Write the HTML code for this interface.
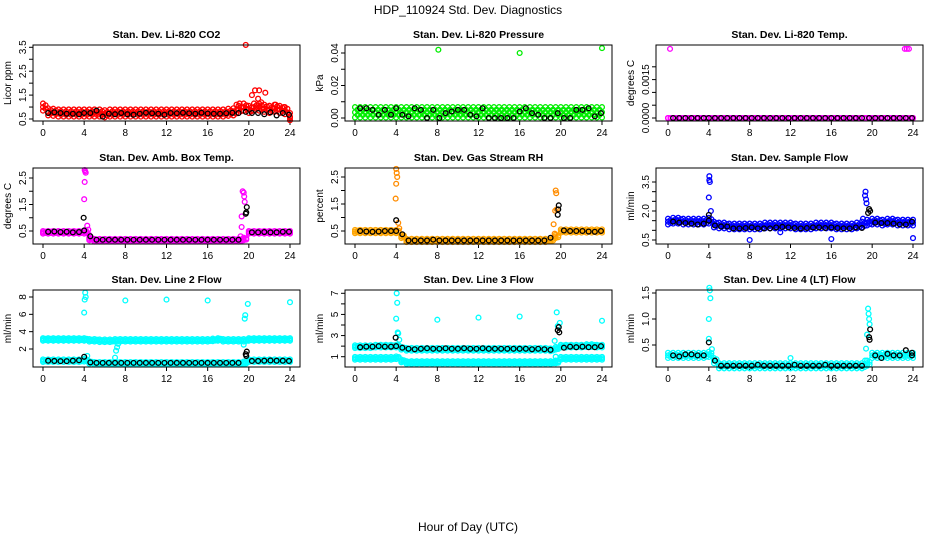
<!DOCTYPE html>
<html><head><meta charset="utf-8"><title>HDP_110924 Std. Dev. Diagnostics</title>
<style>
html,body{margin:0;padding:0;background:#fff;}
svg{display:block;font-family:"Liberation Sans",Arial,sans-serif;}
</style></head>
<body>
<svg id="chart" width="936" height="540" viewBox="0 0 936 540" xmlns="http://www.w3.org/2000/svg">
<text x="468" y="14" text-anchor="middle" font-size="12">HDP_110924  Std. Dev. Diagnostics</text>
<text x="468" y="531" text-anchor="middle" font-size="12">Hour of Day (UTC)</text>
</svg>
<script>
// shared x categories (hours)
const bandHours = [0,0.5,1,1.5,2,2.5,3,3.5,4,4.5,5,5.5,6,6.5,7,7.5,8,8.5,9,9.5,10,10.5,11,11.5,12,12.5,13,13.5,14,14.5,15,15.5,16,16.5,17,17.5,18,18.5,19,19.5,20,20.5,21,21.5,22,22.5,23,23.5,24];
const blackHours = [0.5,1.1,1.7,2.3,2.9,3.5,4.0,4.6,5.2,5.8,6.4,7.0,7.6,8.2,8.8,9.4,10.0,10.6,11.2,11.8,12.4,13.0,13.6,14.2,14.8,15.4,16.0,16.6,17.2,17.8,18.4,19.0,19.7,20.3,20.9,21.5,22.1,22.7,23.3,23.9];
const xTicks = [0,4,8,12,16,20,24];

// Panel 1: CO2
const co2Band = [1.0,0.8,0.78,0.75,0.75,0.75,0.75,0.75,0.75,0.75,0.75,0.75,0.72,0.75,0.75,0.75,0.75,0.75,0.75,0.75,0.75,0.75,0.75,0.75,0.75,0.75,0.75,0.75,0.75,0.75,0.75,0.75,0.75,0.75,0.75,0.75,0.78,0.8,0.9,1.0,0.9,1.0,1.0,0.95,0.9,0.95,0.9,0.85,0.6];
const co2Spread = [0.15];
const co2OutX = [19.7,18.8,19.1,20.3,20.6,21.0,20.9,21.6,21.2,22.0,22.6,23.4,24.0];
const co2OutY = [3.6,1.1,1.15,1.5,1.7,1.7,1.35,1.6,1.2,1.05,1.1,1.0,0.55];
const co2Black = [0.75,0.78,0.75,0.72,0.72,0.7,0.75,0.75,0.85,0.6,0.72,0.7,0.75,0.7,0.68,0.72,0.76,0.74,0.72,0.68,0.75,0.74,0.76,0.74,0.72,0.76,0.73,0.72,0.72,0.74,0.76,0.75,0.8,0.75,0.75,0.7,0.78,0.65,0.75,0.68];
const co2Ticks = [0.5,1,1.5,2,2.5,3,3.5];
const co2Labels = ["0.5","1.5","2.5","3.5"];

// Panel 2: Pressure
const presBand = [0.0035,0.0035,0.0035,0.0035,0.0035,0.0035,0.0035,0.0035,0.0035,0.0035,0.0035,0.0035,0.0035,0.0035,0.0035,0.0035,0.0035,0.0035,0.0035,0.0035,0.0035,0.0035,0.0035,0.0035,0.0035,0.0035,0.0035,0.0035,0.0035,0.0035,0.0035,0.0035,0.0035,0.0035,0.0035,0.0035,0.0035,0.0035,0.0035,0.0035,0.0035,0.0035,0.0035,0.0035,0.0035,0.0035,0.0035,0.0035,0.0035];
const presSpread = [0.0032];
const presOutX = [8.1,16.0,24.0];
const presOutY = [0.042,0.040,0.043];
const presBlack = [0.006,0.006,0.005,0.002,0.005,0.002,0.006,0.002,0.001,0.006,0.005,0.0,0.005,0.0,0.003,0.004,0.005,0.005,0.002,0.001,0.006,0.0,0.0,0.0,0.0,0.0,0.004,0.006,0.003,0.002,0.0,0.0,0.003,0.0,0.0,0.005,0.005,0.006,0.001,0.003];
const presTicks = [0,0.01,0.02,0.03,0.04];
const presLabels = ["0.00","0.02","0.04"];

// Panel 3: Li-820 Temp
const tempBand = [0,0,0,0,0,0,0,0,0,0,0,0,0,0,0,0,0,0,0,0,0,0,0,0,0,0,0,0,0,0,0,0,0,0,0,0,0,0,0,0,0,0,0,0,0,0,0,0,0];
const tempSpread = [0];
const tempOutX = [0.2,23.2,23.4,23.6];
const tempOutY = [0.0027,0.0027,0.0027,0.0027];
const tempBlack = [0,0,0,0,0,0,0,0,0,0,0,0,0,0,0,0,0,0,0,0,0,0,0,0,0,0,0,0,0,0,0,0,0,0,0,0,0,0,0,0];
const tempTicks = [0,0.0005,0.001,0.0015,0.002];
const tempLabels = ["0.0000","0.0015"];

// Panel 4: Amb Box Temp
const ambBand = [0.45,0.45,0.45,0.45,0.45,0.45,0.45,0.45,0.45,0.2,0.15,0.15,0.15,0.15,0.15,0.15,0.15,0.15,0.15,0.15,0.15,0.15,0.15,0.15,0.15,0.15,0.15,0.15,0.15,0.15,0.15,0.15,0.15,0.15,0.15,0.15,0.15,0.15,0.15,0.2,0.45,0.45,0.45,0.45,0.45,0.45,0.45,0.45,0.45];
const ambSpread = [0.05];
const ambOutX = [4.05,4.1,4.15,4.05,4.0,4.3,4.4,4.5,19.3,19.4,19.5,19.55,19.6,19.3,19.2];
const ambOutY = [2.8,2.75,2.7,2.35,1.7,0.7,0.55,0.35,1.05,2.0,1.95,1.8,1.6,0.65,0.3];
const ambBlack = [0.47,0.48,0.46,0.47,0.45,0.46,0.52,0.3,0.17,0.17,0.17,0.17,0.17,0.17,0.17,0.17,0.17,0.17,0.17,0.17,0.17,0.17,0.17,0.17,0.17,0.17,0.17,0.17,0.17,0.17,0.17,0.17,1.15,0.45,0.45,0.46,0.45,0.45,0.47,0.47];
const ambBlackExX = [3.95,19.8,19.75];
const ambBlackExY = [1.0,1.4,1.2];
const ambTicks = [0.5,1,1.5,2,2.5];
const ambLabels = ["0.5","1.5","2.5"];

// Panel 5: Gas Stream RH
const rhBand = [0.48,0.48,0.48,0.48,0.48,0.48,0.48,0.48,0.48,0.3,0.15,0.15,0.15,0.15,0.15,0.15,0.15,0.15,0.15,0.15,0.15,0.15,0.15,0.15,0.15,0.15,0.15,0.15,0.15,0.15,0.15,0.15,0.15,0.15,0.15,0.15,0.15,0.15,0.18,0.3,0.5,0.5,0.5,0.5,0.5,0.5,0.5,0.5,0.5];
const rhSpread = [0.06];
const rhOutX = [4.0,4.05,4.1,4.0,3.95,4.2,4.3,19.3,19.5,19.55,19.45,19.6,19.4];
const rhOutY = [2.8,2.65,2.5,2.25,1.7,0.8,0.6,0.75,2.0,1.9,1.25,1.3,0.4];
const rhBlack = [0.5,0.48,0.47,0.48,0.5,0.5,0.5,0.38,0.15,0.15,0.15,0.15,0.18,0.15,0.15,0.15,0.15,0.15,0.15,0.15,0.15,0.15,0.15,0.15,0.15,0.15,0.15,0.15,0.15,0.15,0.15,0.25,1.1,0.52,0.5,0.5,0.5,0.48,0.47,0.5];
const rhBlackExX = [4.0,19.8,19.75];
const rhBlackExY = [0.9,1.45,1.3];
const rhTicks = [0.5,1,1.5,2,2.5];
const rhLabels = ["0.5","1.5","2.5"];

// Panel 6: Sample Flow
const sfBand = [1.45,1.5,1.5,1.45,1.45,1.45,1.45,1.45,1.5,1.3,1.25,1.25,1.2,1.2,1.2,1.2,1.2,1.2,1.2,1.25,1.25,1.25,1.25,1.25,1.25,1.2,1.2,1.2,1.2,1.25,1.25,1.25,1.25,1.2,1.2,1.2,1.2,1.25,1.3,1.4,1.45,1.45,1.4,1.45,1.45,1.4,1.4,1.4,1.4];
const sfSpread = [0.15];
const sfOutX = [4.05,4.05,4.1,4.0,4.2,8.0,16.0,19.3,19.35,19.4,19.45,24.0,11.0,19.1];
const sfOutY = [3.8,3.6,3.5,2.7,2.0,0.5,0.55,2.8,3.0,2.6,2.4,0.6,0.9,1.6];
const sfBlack = [1.45,1.4,1.38,1.35,1.3,1.35,1.5,1.25,1.2,1.2,1.1,1.1,1.12,1.15,1.1,1.1,1.1,1.15,1.18,1.15,1.12,1.1,1.12,1.15,1.15,1.12,1.15,1.12,1.1,1.1,1.15,1.12,2.1,1.4,1.38,1.38,1.35,1.3,1.3,1.45];
const sfBlackExX = [4.0,19.8,19.6];
const sfBlackExY = [1.8,2.0,1.9];
const sfTicks = [0.5,1,1.5,2,2.5,3,3.5];
const sfLabels = ["0.5","2.0","3.5"];

// Panel 7: Line 2 Flow
const l2High = [3.1,3.1,3.1,3.1,3.1,3.1,3.1,3.1,3.1,3.0,3.0,2.95,2.95,2.95,3.0,3.0,3.0,3.0,3.0,3.0,3.0,3.0,3.0,3.0,3.0,3.0,3.0,3.0,3.0,3.0,3.0,3.0,3.0,3.05,3.1,3.0,3.0,3.0,3.0,3.0,3.1,3.1,3.1,3.1,3.1,3.1,3.1,3.1,3.1];
const l2Low = [0.65,0.65,0.65,0.65,0.65,0.65,0.65,0.65,0.7,0.45,0.35,0.35,0.35,0.35,0.35,0.35,0.35,0.35,0.35,0.35,0.35,0.35,0.35,0.35,0.35,0.35,0.35,0.35,0.35,0.35,0.35,0.35,0.35,0.35,0.35,0.35,0.35,0.35,0.35,0.4,0.65,0.65,0.65,0.65,0.65,0.65,0.65,0.65,0.65];
const l2Spread = [0.15];
const l2OutX = [4.1,4.15,4.05,4.0,8.0,12.0,16.0,19.9,24.0,19.6,19.65,7.2,7.1,7.0,7.3,19.5,4.3];
const l2OutY = [8.5,8.0,7.7,6.2,7.6,7.7,7.6,7.2,7.4,5.5,5.9,2.2,1.8,1.0,2.6,2.5,1.2];
const l2Black = [0.65,0.62,0.6,0.6,0.65,0.7,1.1,0.45,0.4,0.4,0.4,0.4,0.4,0.4,0.4,0.4,0.4,0.4,0.4,0.4,0.4,0.4,0.4,0.4,0.4,0.4,0.4,0.4,0.4,0.4,0.4,0.4,1.4,0.62,0.62,0.65,0.68,0.65,0.65,0.62];
const l2BlackExX = [19.8,19.75];
const l2BlackExY = [1.7,1.2];
const l2Ticks = [2,4,6,8];
const l2Labels = ["2","4","6","8"];

// Panel 8: Line 3 Flow
const l3High = [1.95,1.95,1.95,1.95,2.0,2.0,2.0,2.0,2.0,1.8,1.7,1.7,1.7,1.7,1.7,1.7,1.7,1.7,1.7,1.7,1.7,1.7,1.7,1.7,1.7,1.7,1.7,1.7,1.7,1.7,1.7,1.7,1.7,1.7,1.7,1.7,1.7,1.7,1.65,1.8,2.0,2.0,2.0,2.0,2.0,2.05,2.05,2.0,2.0];
const l3Low = [0.85,0.85,0.85,0.85,0.85,0.85,0.85,0.85,0.9,0.6,0.45,0.45,0.45,0.45,0.45,0.45,0.45,0.45,0.45,0.45,0.45,0.45,0.45,0.45,0.45,0.45,0.45,0.45,0.45,0.45,0.45,0.45,0.45,0.45,0.45,0.45,0.45,0.45,0.45,0.5,0.85,0.85,0.85,0.85,0.85,0.85,0.85,0.85,0.85];
const l3Spread = [0.13];
const l3OutX = [4.05,4.1,4.0,4.15,4.2,4.3,8.0,12.0,16.0,19.6,19.7,19.9,24.0,19.4,19.5];
const l3OutY = [7.0,6.1,4.6,3.3,3.2,2.6,4.5,4.7,4.8,5.2,3.9,4.2,4.4,2.5,1.0];
const l3Black = [1.9,1.95,1.95,2.0,1.95,1.95,2.0,1.85,1.75,1.7,1.75,1.8,1.75,1.75,1.8,1.75,1.75,1.8,1.75,1.75,1.8,1.75,1.75,1.75,1.75,1.75,1.75,1.75,1.7,1.75,1.7,1.65,3.5,1.85,1.95,1.9,1.95,1.9,1.9,2.0];
const l3BlackExX = [3.95,19.8,19.85];
const l3BlackExY = [2.8,3.8,3.3];
const l3Ticks = [1,2,3,4,5,6,7];
const l3Labels = ["1","3","5","7"];

// Panel 9: Line 4 (LT) Flow
const l4Band = [0.3,0.3,0.3,0.3,0.3,0.3,0.3,0.3,0.32,0.2,0.1,0.1,0.1,0.1,0.1,0.1,0.1,0.1,0.1,0.1,0.1,0.1,0.1,0.1,0.1,0.1,0.1,0.1,0.1,0.1,0.1,0.1,0.1,0.1,0.1,0.1,0.1,0.1,0.1,0.15,0.3,0.3,0.3,0.3,0.3,0.3,0.3,0.3,0.3];
const l4Spread = [0.05];
const l4OutX = [4.05,4.1,4.15,4.0,4.0,4.3,12.0,19.6,19.65,19.7,19.75,19.5,19.4,19.3];
const l4OutY = [1.6,1.55,1.4,1.0,0.62,0.42,0.25,1.2,1.1,1.0,0.9,0.7,0.43,0.2];
const l4Black = [0.3,0.28,0.32,0.32,0.3,0.3,0.55,0.2,0.1,0.1,0.1,0.1,0.1,0.1,0.12,0.1,0.1,0.1,0.1,0.1,0.12,0.1,0.1,0.1,0.1,0.12,0.1,0.1,0.1,0.1,0.1,0.1,0.65,0.3,0.25,0.33,0.3,0.3,0.4,0.3];
const l4BlackExX = [19.8,19.75,23.9];
const l4BlackExY = [0.8,0.6,0.35];
const l4Ticks = [0.5,1,1.5];
const l4Labels = ["0.5","1.0","1.5"];

const NS = "http://www.w3.org/2000/svg";
const svg = document.getElementById("chart");
function mk(tag, attrs, parent){
  const e = document.createElementNS(NS, tag);
  for (const k in attrs) e.setAttribute(k, attrs[k]);
  (parent||svg).appendChild(e);
  return e;
}
const cols = [{l:33,r:300,x0:43,x24:290},{l:345,r:612,x0:355,x24:602},{l:656,r:923,x0:668,x24:913}];
const rows = [{t:45,b:121},{t:168,b:244},{t:290,b:367}];

function panel(opts){
  const c = cols[opts.col], rw = rows[opts.row];
  const g = mk("g", {});
  
  
  const xs = h => c.x0 + (c.x24 - c.x0) * h / 24;
  const ys = v => opts.p1 + (opts.p2 - opts.p1) * (v - opts.v1) / (opts.v2 - opts.v1);
  const tt = mk("text", {x:(c.l+c.r)/2, y:rw.t-7, "text-anchor":"middle", "font-size":"10.5", "font-weight":"bold"}, g);
  tt.textContent = opts.title;
  
  
  const yl = mk("text", {transform:`translate(${c.l-22},${(rw.t+rw.b)/2}) rotate(-90)`, "text-anchor":"middle", "font-size":"10"}, g);
  yl.textContent = opts.ylab;
  
  
  const xa = mk("g", {}, g);
  
  
  mk("line", {x1:xs(xTicks[0]), x2:xs(xTicks[xTicks.length-1]), y1:rw.b, y2:rw.b, stroke:"#000"}, xa);
  xTicks.forEach(t=>{
    mk("line", {x1:xs(t), x2:xs(t), y1:rw.b, y2:rw.b+4, stroke:"#000"}, xa);
    const lb = mk("text", {x:xs(t), y:rw.b+15, "text-anchor":"middle", "font-size":"10"}, xa);
    lb.textContent = String(t);
    
    
  });
  const ya = mk("g", {}, g);
  
  
  mk("line", {x1:c.l, x2:c.l, y1:ys(opts.ticks[0]), y2:ys(opts.ticks[opts.ticks.length-1]), stroke:"#000"}, ya);
  opts.ticks.forEach(t=>{
    mk("line", {x1:c.l-4, x2:c.l, y1:ys(t), y2:ys(t), stroke:"#000"}, ya);
  });
  opts.labels.forEach(s=>{
    const v = parseFloat(s);
    const lb = mk("text", {transform:`translate(${c.l-7},${ys(v)}) rotate(-90)`, "text-anchor":"middle", "font-size":"10"}, ya);
    lb.textContent = s;
    
    
  });
  const marks = mk("g", {fill:"none", "stroke-width":"1.3"}, g);
  
  
  const dot = (h, v, col, nm) => {
    const e = mk("circle", {cx:xs(h).toFixed(2), cy:ys(v).toFixed(2), r:2.4, stroke:col}, marks);
    
    
  };
  opts.bands.forEach(b=>{
    const s = b.spread[0];
    b.vals.forEach((v,i)=>{
      const h = bandHours[i];
      [-1,0,1].forEach(o=> dot(h, v + o*s, b.color, 'band-point'));
      if (i < b.vals.length-1) [-0.5,0.5].forEach(o=> dot(h+0.25, v + o*s, b.color, 'band-point'));
    });
  });
  opts.outX.forEach((h,i)=> dot(h, opts.outY[i], opts.outColor, 'outlier-point'));
  opts.black.forEach((v,i)=> dot(blackHours[i], v, "#000", 'hourly-mean-point'));
  (opts.bexX||[]).forEach((h,i)=> dot(h, opts.bexY[i], "#000", 'hourly-mean-point'));
  mk("rect", {x:c.l, y:rw.t, width:c.r-c.l, height:rw.b-rw.t, fill:"none", stroke:"#000"}, g);
}

panel({name:"panel-co2", col:0,row:0,title:"Stan. Dev. Li-820 CO2",ylab:"Licor ppm",v1:0.5,p1:119,v2:3.5,p2:47.3,ticks:co2Ticks,labels:co2Labels,
  bands:[{vals:co2Band,spread:co2Spread,color:"#ff0000"}],outX:co2OutX,outY:co2OutY,outColor:"#ff0000",black:co2Black});
panel({name:"panel-pressure", col:1,row:0,title:"Stan. Dev. Li-820 Pressure",ylab:"kPa",v1:0,p1:118,v2:0.04,p2:53,ticks:presTicks,labels:presLabels,
  bands:[{vals:presBand,spread:presSpread,color:"#00ee00"}],outX:presOutX,outY:presOutY,outColor:"#00ee00",black:presBlack});
panel({name:"panel-li820-temp", col:2,row:0,title:"Stan. Dev. Li-820 Temp.",ylab:"degrees C",v1:0,p1:118,v2:0.002,p2:66.8,ticks:tempTicks,labels:tempLabels,
  bands:[{vals:tempBand,spread:tempSpread,color:"#ff00ff"}],outX:tempOutX,outY:tempOutY,outColor:"#ff00ff",black:tempBlack});
panel({name:"panel-amb-box-temp", col:0,row:1,title:"Stan. Dev. Amb. Box Temp.",ylab:"degrees C",v1:0.5,p1:231,v2:2.5,p2:178,ticks:ambTicks,labels:ambLabels,
  bands:[{vals:ambBand,spread:ambSpread,color:"#ff00ff"}],outX:ambOutX,outY:ambOutY,outColor:"#ff00ff",black:ambBlack,bexX:ambBlackExX,bexY:ambBlackExY});
panel({name:"panel-gas-stream-rh", col:1,row:1,title:"Stan. Dev. Gas Stream RH",ylab:"percent",v1:0.5,p1:231,v2:2.5,p2:177,ticks:rhTicks,labels:rhLabels,
  bands:[{vals:rhBand,spread:rhSpread,color:"#ffa500"}],outX:rhOutX,outY:rhOutY,outColor:"#ff8c00",black:rhBlack,bexX:rhBlackExX,bexY:rhBlackExY});
panel({name:"panel-sample-flow", col:2,row:1,title:"Stan. Dev. Sample Flow",ylab:"ml/min",v1:0.5,p1:240,v2:3.5,p2:182,ticks:sfTicks,labels:sfLabels,
  bands:[{vals:sfBand,spread:sfSpread,color:"#0000ff"}],outX:sfOutX,outY:sfOutY,outColor:"#0000ff",black:sfBlack,bexX:sfBlackExX,bexY:sfBlackExY});
panel({name:"panel-line2-flow", col:0,row:2,title:"Stan. Dev. Line 2 Flow",ylab:"ml/min",v1:2,p1:349,v2:8,p2:297,ticks:l2Ticks,labels:l2Labels,
  bands:[{vals:l2High,spread:l2Spread,color:"#00ffff"},{vals:l2Low,spread:l2Spread,color:"#00ffff"}],outX:l2OutX,outY:l2OutY,outColor:"#00ffff",black:l2Black,bexX:l2BlackExX,bexY:l2BlackExY});
panel({name:"panel-line3-flow", col:1,row:2,title:"Stan. Dev. Line 3 Flow",ylab:"ml/min",v1:1,p1:356.7,v2:7,p2:293.3,ticks:l3Ticks,labels:l3Labels,
  bands:[{vals:l3High,spread:l3Spread,color:"#00ffff"},{vals:l3Low,spread:l3Spread,color:"#00ffff"}],outX:l3OutX,outY:l3OutY,outColor:"#00ffff",black:l3Black,bexX:l3BlackExX,bexY:l3BlackExY});
panel({name:"panel-line4-flow", col:2,row:2,title:"Stan. Dev. Line 4 (LT) Flow",ylab:"ml/min",v1:0.5,p1:345,v2:1.5,p2:293,ticks:l4Ticks,labels:l4Labels,
  bands:[{vals:l4Band,spread:l4Spread,color:"#00ffff"}],outX:l4OutX,outY:l4OutY,outColor:"#00ffff",black:l4Black,bexX:l4BlackExX,bexY:l4BlackExY});
</script>
</body></html>
